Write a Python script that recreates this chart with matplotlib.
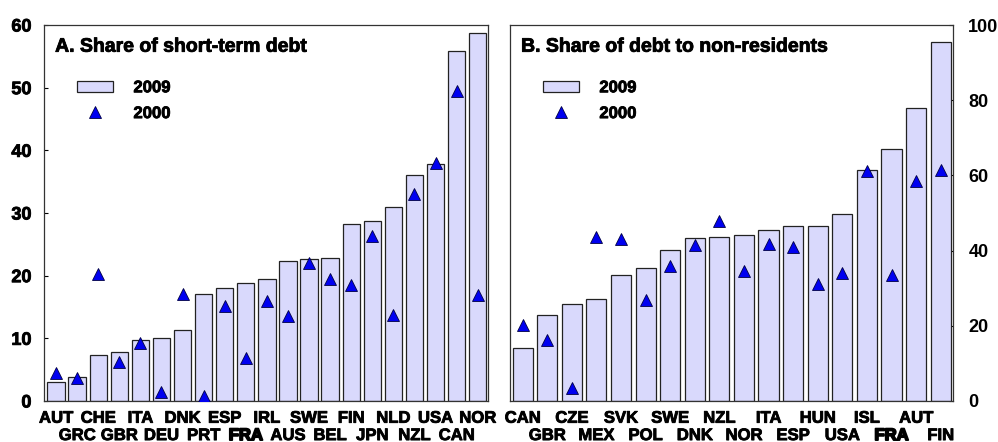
import numpy as np
import matplotlib.pyplot as plt
import matplotlib.patheffects as pe
from matplotlib.lines import Line2D
from matplotlib.patches import Patch

plt.rcParams['font.family'] = ['Liberation Sans', 'DejaVu Sans']
plt.rcParams['font.weight'] = 'bold'

# Panel A: share of short-term debt
countries_a = ["AUT", "GRC", "CHE", "GBR", "ITA", "DEU", "DNK", "PRT", "ESP", "FRA", "IRL",
               "AUS", "SWE", "BEL", "FIN", "JPN", "NLD", "NZL", "USA", "CAN", "NOR"]
short_2009 = [3.0, 3.8, 7.4, 7.8, 9.7, 10.0, 11.4, 17.0, 18.0, 18.8, 19.4,
              22.3, 22.7, 22.8, 28.2, 28.8, 30.9, 36.0, 37.8, 55.9, 58.7]
short_2000 = [4.4, 3.6, 20.2, 6.3, 9.2, 1.4, 17.1, 0.8, 15.1, 6.9, 16.0,
              13.6, 22.0, 19.5, 18.5, 26.3, 13.7, 33.0, 37.9, 49.5, 16.9]

# Panel B: share of debt to non-residents
countries_b = ["CAN", "GBR", "CZE", "MEX", "SVK", "POL", "SWE", "DNK", "NZL", "NOR",
               "ITA", "ESP", "HUN", "USA", "ISL", "FRA", "AUT", "FIN"]
nonres_2009 = [14.2, 22.8, 25.7, 27.0, 33.5, 35.3, 40.1, 43.3, 43.7, 44.2,
               45.5, 46.5, 46.5, 49.8, 61.4, 67.0, 77.8, 95.6]
nonres_2000 = [20.3, 16.3, 3.5, 43.5, 43.2, 26.9, 36.0, 41.6, 47.8, 34.6,
               41.7, 41.0, 31.0, 34.0, 61.3, 33.4, 58.5, 61.4]

BAR = '#D9D9FC'
TRI = '#0000F0'
FS = 12
heavy = [pe.withStroke(linewidth=0.6, foreground='black')]
heavier = [pe.withStroke(linewidth=1.3, foreground='black')]

fig = plt.figure(figsize=(9.98, 4.42), dpi=100)
ax1 = fig.add_axes([0.0441, 0.0928, 0.4449, 0.8506])
ax2 = fig.add_axes([0.5110, 0.0928, 0.4439, 0.8506])


def panel(ax, names, bars, tris, title, ymax, step):
    x = np.arange(len(names))
    ax.bar(x, bars, width=0.82, color=BAR, edgecolor='#222222', linewidth=0.9, zorder=2)
    ax.plot(x, tris, linestyle='none', marker='^', markersize=8.5,
            markerfacecolor=TRI, markeredgecolor='#000044', markeredgewidth=0.6, zorder=3)
    ax.set_ylim(0, ymax)
    ax.set_yticks(np.arange(0, ymax + 1, step))

    # two staggered rows of country labels
    ax.set_xticks(x[::2])
    ax.set_xticklabels(names[::2], fontsize=FS, fontweight='bold')
    ax.set_xticks(x[1::2], minor=True)
    ax.set_xticklabels(names[1::2], minor=True, fontsize=FS, fontweight='bold')
    ax.tick_params(axis='x', which='major', length=0, pad=7)
    ax.tick_params(axis='x', which='minor', length=0, pad=19.5)
    for t in ax.get_xticklabels() + ax.get_xticklabels(minor=True):
        t.set_path_effects(heavier if t.get_text() == "FRA" else heavy)

    ax.tick_params(axis='y', direction='in', length=3, width=0.8, labelsize=13, pad=9)
    for t in ax.get_yticklabels():
        t.set_fontweight('bold')
        t.set_path_effects(heavy)
    for s in ax.spines.values():
        s.set_color('#333333')
        s.set_linewidth(0.9)
    ax.text(0.025, 0.941, title, transform=ax.transAxes, fontsize=14,
            fontweight='bold', va='center', ha='left', path_effects=heavy)
    handles = [Patch(facecolor=BAR, edgecolor='#222222', linewidth=0.9),
               Line2D([], [], linestyle='none', marker='^', markersize=8.5,
                      markerfacecolor=TRI, markeredgecolor='#000044', markeredgewidth=0.6)]
    leg = ax.legend(handles, ["2009", "2000"], loc='upper left', frameon=False,
                    bbox_to_anchor=(0.04, 0.893), handlelength=2.2,
                    handleheight=0.7, handletextpad=1.2, labelspacing=0.65,
                    prop={'weight': 'bold', 'size': FS})
    for t in leg.get_texts():
        t.set_path_effects(heavy)


panel(ax1, countries_a, short_2009, short_2000, "A. Share of short-term debt", 60, 10)
ax1.set_xlim(-0.57, len(countries_a) - 0.51)

panel(ax2, countries_b, nonres_2009, nonres_2000, "B. Share of debt to non-residents", 100, 20)
ax2.set_xlim(-0.515, len(countries_b) - 0.5)
ax2.yaxis.tick_right()
ax2.tick_params(axis='y', pad=11)

fig.savefig('out.png', dpi=100)
